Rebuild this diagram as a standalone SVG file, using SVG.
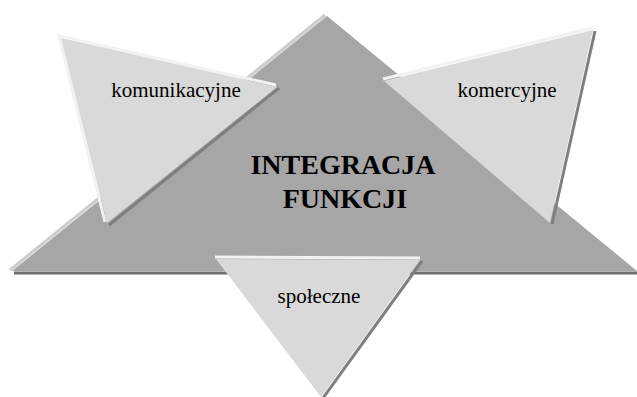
<svg xmlns="http://www.w3.org/2000/svg" width="637" height="397" viewBox="0 0 637 397">
  <style>
    .big { fill: #a6a6a6; }
    .small { fill: #d9d9d9; }
    .hi-big { fill: none; stroke: #cdcdcd; stroke-width: 3; }
    .hi { fill: none; stroke: #f2f2f2; stroke-width: 3; }
    .lo { fill: none; stroke: #7f7f7f; stroke-width: 3; }
    .lo-big { fill: none; stroke: #6f6f6f; stroke-width: 3; }
    text { font-family: 'Liberation Serif', 'Times New Roman', Times, serif; fill: #000; text-anchor: middle; }
    .lbl { font-size: 21px; }
    .title { font-size: 28px; font-weight: bold; }
  </style>

  <!-- central triangle with bevel edges -->
  <g id="integracja">
    <line class="hi-big" x1="325" y1="15" x2="10" y2="270"/>
    <line class="lo-big" x1="14" y1="273" x2="637" y2="273"/>
    <polygon class="big" points="327,16 12,271 637,271"/>
    <text class="title" x="343" y="174">INTEGRACJA</text>
    <text class="title" x="345" y="208">FUNKCJI</text>
  </g>

  <!-- upper-left triangle -->
  <g id="komunikacyjne">
    <polyline class="lo" points="279,88 109,225"/>
    <polyline class="hi" points="105,222 59,36 276,85"/>
    <polygon class="small" points="61,38 277,87 107,223"/>
    <text class="lbl" x="176" y="97">komunikacyjne</text>
  </g>

  <!-- upper-right triangle -->
  <g id="komercyjne">
    <polyline class="lo" points="595,31 552,224"/>
    <polyline class="hi" points="383,79 592,28"/>
    <polygon class="small" points="384,81 593,30 550,223"/>
    <text class="lbl" x="507" y="97">komercyjne</text>
  </g>

  <!-- lower triangle -->
  <g id="spoleczne">
    <polyline class="lo" points="422,261 323,398"/>
    <polyline class="hi" points="215,257 420,258"/>
    <polygon class="small" points="216,259 420,260 321,397"/>
    <text class="lbl" x="319" y="303">społeczne</text>
  </g>

  <g id="connectors"/>
</svg>
